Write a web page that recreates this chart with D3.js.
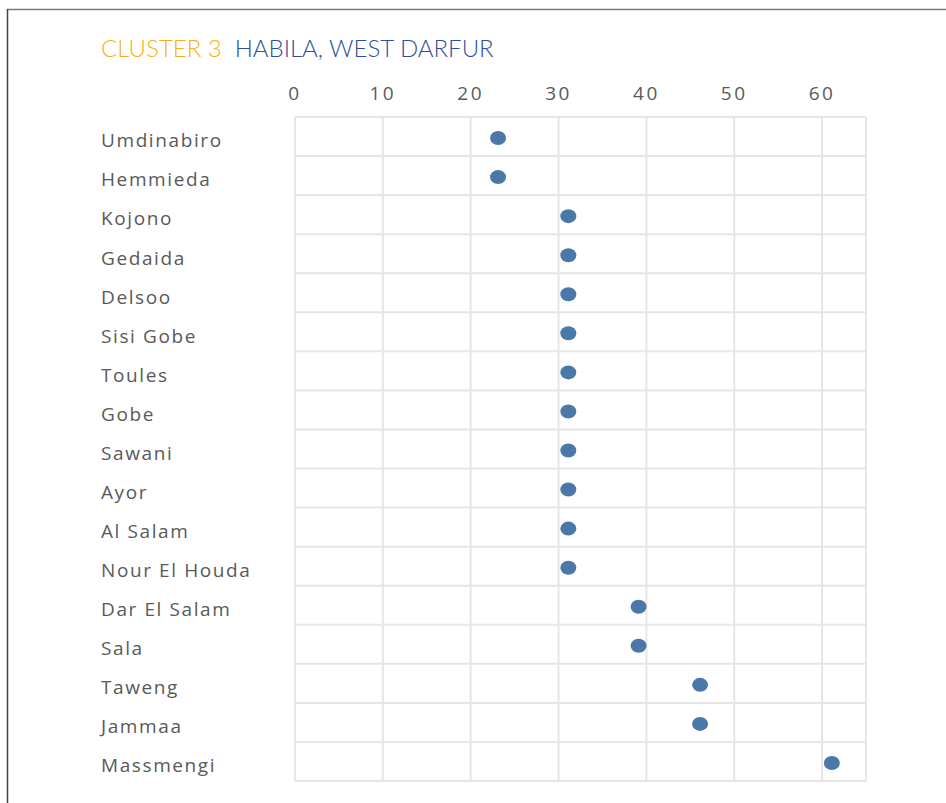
<!DOCTYPE html>
<html>
<head>
<meta charset="utf-8">
<script src="https://cdn.jsdelivr.net/npm/d3@7"></script>
<style>
  body { margin: 0; background: #fff; }
  text { font-family: "Open Sans", sans-serif; }
</style>
</head>
<body>
<div id="plot"></div>
<script>
// data
var villages = ["Umdinabiro", "Hemmieda", "Kojono", "Gedaida", "Delsoo", "Sisi Gobe",
    "Toules", "Gobe", "Sawani", "Ayor", "Al Salam", "Nour El Houda",
    "Dar El Salam", "Sala", "Taweng", "Jammaa", "Massmengi"];
var values = [23, 23, 31, 31, 31, 31, 31, 31, 31, 31, 31, 31, 39, 39, 46, 46, 61];
var xTicks = [0, 10, 20, 30, 40, 50, 60];
var titleA = "CLUSTER 3";
var titleB = "HABILA, WEST DARFUR";

var W = 946, H = 803;
var margin = {top: 117, right: 80, bottom: 22, left: 295},
    width = 866 - margin.left,
    height = 781 - margin.top;

var svg = d3.select("#plot")
  .append("svg")
    .attr("width", W)
    .attr("height", H);

// frame lines (top + left)
svg.append("line")
    .attr("x1", 7).attr("x2", W).attr("y1", 9.5).attr("y2", 9.5)
    .attr("stroke", "#7a7a7a").attr("stroke-width", 1.5);
svg.append("line")
    .attr("x1", 7.5).attr("x2", 7.5).attr("y1", 9).attr("y2", H)
    .attr("stroke", "#444").attr("stroke-width", 1.5);

// title
var title = svg.append("text")
    .attr("x", 101)
    .attr("y", 57)
    .style("font-family", "Lato, sans-serif")
    .style("font-weight", 300)
    .style("font-size", "24px");
title.append("tspan").attr("fill", "#f6b118").text(titleA);
title.append("tspan").attr("fill", "#2f4f9c").attr("dx", 13).text(titleB);

var g = svg.append("g")
    .attr("transform", "translate(" + margin.left + "," + margin.top + ")");

var x = d3.scaleLinear()
    .domain([0, 65])
    .range([0, width]);

var y = d3.scaleBand()
    .domain(villages)
    .range([0, height]);

// vertical gridlines
g.selectAll(".vgrid")
  .data(xTicks.concat([65]))
  .enter()
  .append("line")
    .attr("x1", d => x(d)).attr("x2", d => x(d))
    .attr("y1", 0).attr("y2", height)
    .attr("stroke", "#e6e6e6").attr("stroke-width", 2);

// horizontal gridlines
var hl = villages.map(v => y(v)).concat([height]);
g.selectAll(".hgrid")
  .data(hl)
  .enter()
  .append("line")
    .attr("x1", 0).attr("x2", width)
    .attr("y1", d => d).attr("y2", d => d)
    .attr("stroke", "#e6e6e6").attr("stroke-width", 2);

// top axis labels
g.selectAll(".xlab")
  .data(xTicks)
  .enter()
  .append("text")
    .attr("x", d => x(d))
    .attr("y", -17)
    .attr("text-anchor", "middle")
    .attr("fill", "#595959")
    .style("font-size", "19px")
    .style("letter-spacing", "2.5px")
    .text(d => d);

// row labels
g.selectAll(".ylab")
  .data(villages)
  .enter()
  .append("text")
    .attr("x", 101 - margin.left)
    .attr("y", d => y(d) + y.bandwidth() / 2 + 4)
    .attr("dy", "0.36em")
    .attr("fill", "#595959")
    .style("font-size", "19px")
    .style("letter-spacing", "1.6px")
    .text(d => d);

// dots
g.selectAll(".dot")
  .data(villages)
  .enter()
  .append("ellipse")
    .attr("cx", (d, i) => x(values[i]) + 1)
    .attr("cy", d => y(d) + y.bandwidth() / 2 + 1.5)
    .attr("rx", 8)
    .attr("ry", 7)
    .attr("fill", "#4a78a8");
</script>
</body>
</html>
